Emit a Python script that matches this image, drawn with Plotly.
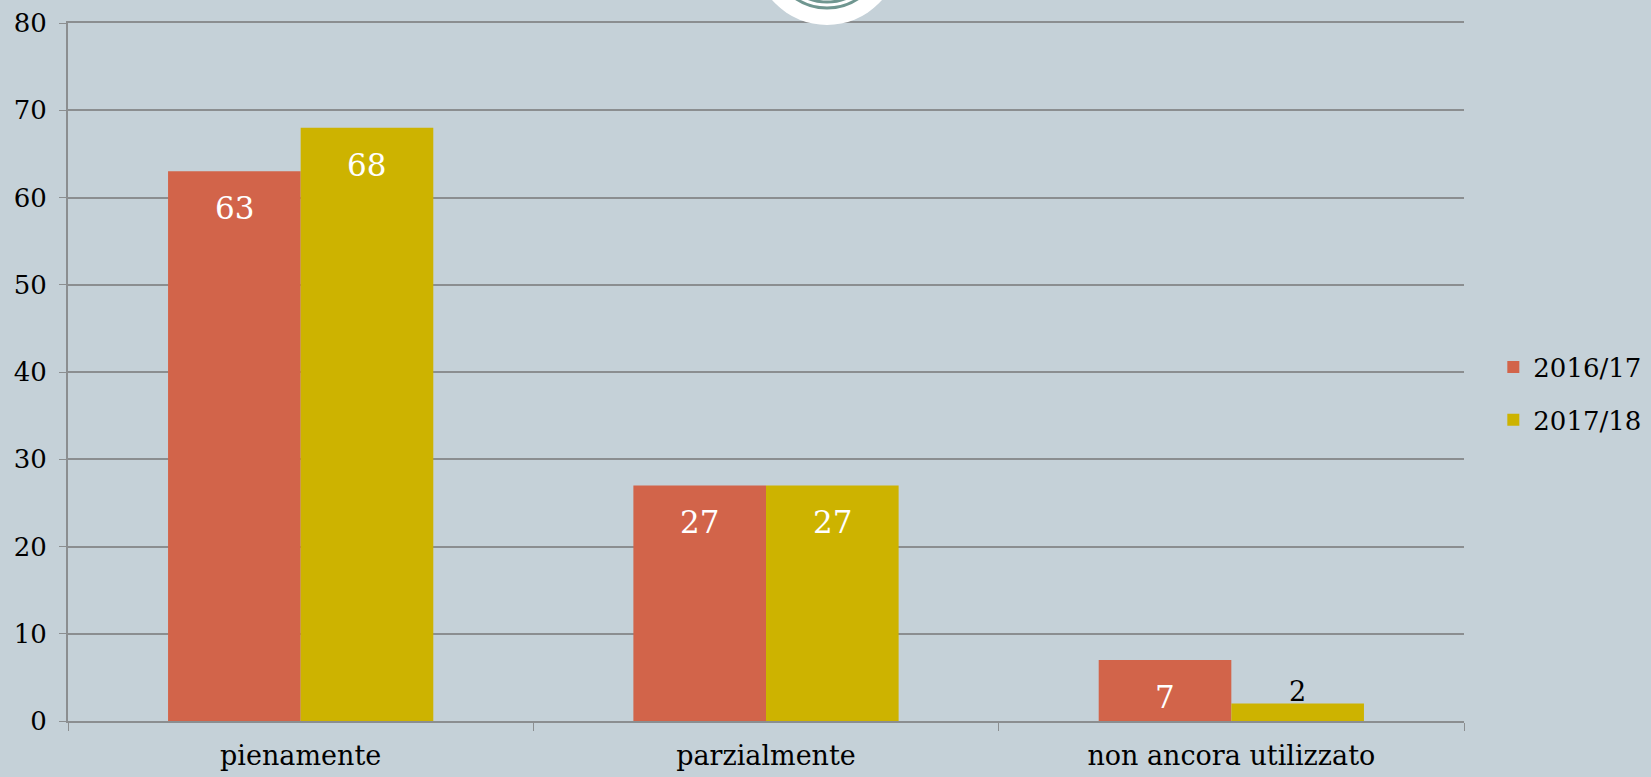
import plotly.graph_objects as go

categories = ["pienamente", "parzialmente", "non ancora utilizzato"]
series_names = ["2016/17", "2017/18"]
values_2016 = [63, 27, 7]
values_2017 = [68, 27, 2]

BG = "#c5d1d8"
GRID = "#8b8e90"
COLORS = ["#d2644a", "#cdb300"]
FONT = "DejaVu Serif"

W, H = 1651, 777
ML, MR, MT, MB = 68, 187, 23, 56
BARGAP = 0.43

fig = go.Figure()
for k, (name, vals, col) in enumerate(zip(series_names, [values_2016, values_2017], COLORS)):
    fig.add_trace(go.Bar(
        x=categories, y=vals, name=name, legendgroup=name,
        marker=dict(color=col, line_width=0),
    ))

# value labels: inside near the top in white, or just above in black for short bars
plot_w = W - ML - MR
bar_px = plot_w / len(categories) * (1 - BARGAP) / len(series_names)
for k, vals in enumerate([values_2016, values_2017]):
    dx = (k - (len(series_names) - 1) / 2) * bar_px
    for cat, v in zip(categories, vals):
        inside = v >= 5
        fig.add_annotation(
            x=cat, y=v, xref="x", yref="y", text=str(v), showarrow=False,
            xshift=dx, yshift=-37 if inside else 12,
            font=dict(family=FONT, size=31 if inside else 27,
                      color="white" if inside else "black"),
        )

# logo badge peeking in from the top edge
xa = (827 - ML) / plot_w
badge = dict(type="circle", xref="paper", yref="paper", xsizemode="pixel",
             ysizemode="pixel", xanchor=xa, yanchor=1.0, layer="above")
fig.add_shape(**badge, x0=-73, x1=73, y0=-2, y1=144, fillcolor="white", line_width=0)
fig.add_shape(**badge, x0=-56, x1=56, y0=15, y1=127, fillcolor="rgba(0,0,0,0)",
              line=dict(color="#6f9690", width=3))
fig.add_shape(**badge, x0=-50, x1=50, y0=21, y1=121, fillcolor="rgba(0,0,0,0)",
              line=dict(color="#6f9690", width=3))

fig.update_layout(
    barmode="group", bargap=BARGAP, bargroupgap=0,
    paper_bgcolor=BG, plot_bgcolor=BG,
    width=W, height=H,
    margin=dict(l=ML, r=MR, t=MT, b=MB, autoexpand=False),
    font=dict(family=FONT, color="black", size=20),
    legend=dict(x=1.021, y=0.469, xanchor="left", yanchor="middle",
                font=dict(size=26, family=FONT), bgcolor="rgba(0,0,0,0)",
                traceorder="grouped", tracegroupgap=16, itemwidth=30),
    showlegend=True,
)
fig.update_yaxes(range=[0, 80], dtick=10, showgrid=True, gridcolor=GRID, gridwidth=1.5,
                 showline=True, linecolor=GRID, linewidth=2, ticks="outside", ticklen=7,
                 tickcolor=GRID, tickfont=dict(size=26, family=FONT), ticklabelstandoff=7,
                 zeroline=False, automargin=False)
fig.update_xaxes(showline=True, mirror=True, linecolor=GRID, linewidth=2, ticks="outside",
                 ticklen=8, tickcolor=GRID, tickson="boundaries",
                 tickfont=dict(size=27, family=FONT), ticklabelstandoff=10, automargin=False)

fig.write_html("out.html", config={"displayModeBar": False},
               post_script="document.body.style.margin='0';")
